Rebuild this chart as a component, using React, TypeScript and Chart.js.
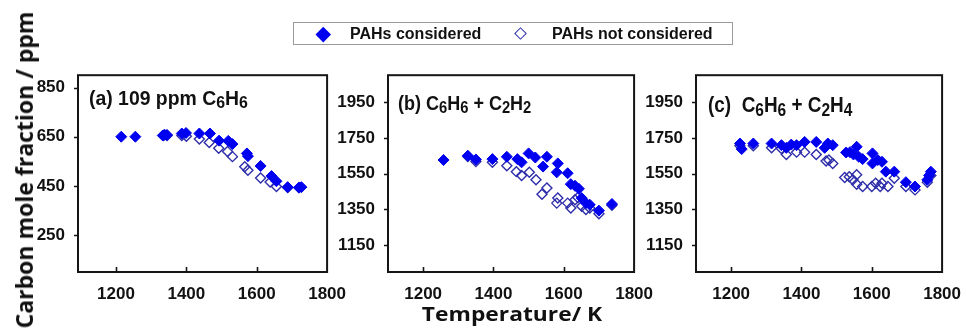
import React, { useEffect, useRef } from 'react';
import { Chart, registerables } from 'chart.js';

Chart.register(...registerables);

// ---------- data ----------
const xTicks = [1200, 1400, 1600, 1800];
const aYTicks = [250, 450, 650, 850];
const bcYTicks = [1150, 1350, 1550, 1750, 1950];

// (a) 109 ppm C6H6
const aFilledT = [1215, 1255, 1333, 1338, 1345, 1387, 1399, 1437, 1467, 1493, 1519, 1531, 1572, 1575, 1611, 1642, 1656, 1688, 1720, 1727];
const aFilledC = [650, 650, 655, 658, 657, 663, 665, 663, 663, 634, 633, 620, 582, 571, 531, 490, 469, 445, 443, 445];
const aOpenT = [1335, 1345, 1387, 1400, 1437, 1465, 1492, 1517, 1531, 1566, 1575, 1611, 1638, 1656, 1688, 1720];
const aOpenC = [655, 655, 655, 652, 641, 626, 603, 590, 569, 528, 514, 482, 466, 448, 443, 443];

// (b) C6H6 + C2H2
const bFilledT = [1258, 1327, 1350, 1397, 1438, 1468, 1480, 1500, 1519, 1541, 1552, 1583, 1580, 1611, 1620, 1632, 1643, 1651, 1663, 1674, 1700, 1737];
const bFilledC = [1626, 1650, 1629, 1631, 1644, 1631, 1613, 1663, 1640, 1589, 1644, 1607, 1557, 1552, 1491, 1482, 1465, 1413, 1385, 1376, 1343, 1380];
const bOpenT = [1327, 1350, 1397, 1438, 1465, 1480, 1502, 1521, 1538, 1552, 1583, 1580, 1611, 1620, 1632, 1640, 1651, 1663, 1674, 1700, 1737];
const bOpenC = [1645, 1617, 1613, 1594, 1561, 1539, 1557, 1515, 1435, 1469, 1413, 1385, 1385, 1358, 1404, 1417, 1367, 1349, 1358, 1325, 1373];

// (c) C6H6 + C2H4
const cFilledT = [1225, 1230, 1263, 1315, 1343, 1357, 1371, 1386, 1409, 1442, 1466, 1475, 1489, 1527, 1538, 1548, 1557, 1563, 1574, 1602, 1602, 1617, 1629, 1640, 1664, 1697, 1723, 1758, 1768, 1763];
const cFilledC = [1718, 1687, 1718, 1718, 1709, 1694, 1712, 1709, 1727, 1727, 1694, 1718, 1709, 1668, 1670, 1657, 1700, 1644, 1631, 1663, 1607, 1626, 1616, 1561, 1561, 1502, 1478, 1515, 1561, 1540];
const cOpenT = [1225, 1263, 1315, 1343, 1357, 1386, 1409, 1442, 1470, 1478, 1489, 1523, 1536, 1546, 1557, 1557, 1574, 1600, 1611, 1624, 1629, 1646, 1664, 1697, 1723, 1758, 1768];
const cOpenC = [1705, 1705, 1694, 1690, 1657, 1670, 1670, 1657, 1620, 1626, 1607, 1528, 1533, 1515, 1543, 1491, 1478, 1478, 1496, 1478, 1496, 1478, 1524, 1478, 1459, 1502, 1540];

// ---------- styling ----------
const FILL = '#0000f0';
const OPEN = '#2e2eaa';
const TICK_FONT = { family: '"Liberation Sans", Arial, sans-serif', size: 17, weight: 'bold' as const };

type Part = { t: string; sub?: boolean };

interface PanelCfg {
  left: number;
  boxW: number;
  xMin: number;
  yMin: number;
  yMax: number;
  yTicks: number[];
  filledT: number[];
  filledC: number[];
  openT: number[];
  openC: number[];
  label: Part[];
  labelDx: number;
  labelDy: number;
  labelSize: number;
  labelSx: number;
}

const pts = (xs: number[], ys: number[]) => xs.map((x, i) => ({ x, y: ys[i] }));

function makeFramePlugin(cfg: PanelCfg) {
  return {
    id: 'frame',
    afterDraw(chart: any) {
      const { ctx, chartArea: ca, scales } = chart;
      ctx.save();
      ctx.strokeStyle = '#151515';
      ctx.lineWidth = 2;
      ctx.strokeRect(ca.left, ca.top, ca.right - ca.left, ca.bottom - ca.top);
      ctx.lineWidth = 1.6;
      ctx.beginPath();
      for (const v of xTicks) {
        if (v >= scales.x.max) continue;
        const px = Math.round(scales.x.getPixelForValue(v)) + 0.5;
        ctx.moveTo(px, ca.bottom);
        ctx.lineTo(px, ca.bottom - 5);
      }
      for (const v of cfg.yTicks) {
        const py = Math.round(scales.y.getPixelForValue(v)) + 0.5;
        ctx.moveTo(ca.left - 4, py);
        ctx.lineTo(ca.left, py);
      }
      ctx.stroke();
      // panel label
      ctx.fillStyle = '#111';
      ctx.textBaseline = 'alphabetic';
      ctx.translate(ca.left + cfg.labelDx, ca.top + cfg.labelDy);
      ctx.scale(cfg.labelSx, 1);
      let x = 0;
      for (const p of cfg.label) {
        const size = p.sub ? cfg.labelSize * 0.82 : cfg.labelSize;
        ctx.font = `bold ${size}px "Liberation Sans", Arial, sans-serif`;
        ctx.fillText(p.t, x, p.sub ? cfg.labelSize * 0.16 : 0);
        x += ctx.measureText(p.t).width;
      }
      ctx.restore();
    },
  };
}

const CANVAS_TOP = 60;
const CANVAS_H = 247;
const Y_AXIS_W = 60;
const X_AXIS_H = 35;
const PAD_TOP = 13;
const PAD_RIGHT = 22;

function Panel({ cfg }: { cfg: PanelCfg }) {
  const ref = useRef<HTMLCanvasElement | null>(null);
  const w = Y_AXIS_W + cfg.boxW + PAD_RIGHT;
  useEffect(() => {
    if (!ref.current) return;
    const chart = new Chart(ref.current, {
      type: 'scatter',
      data: {
        datasets: [
          {
            data: pts(cfg.filledT, cfg.filledC),
            pointStyle: 'rectRot',
            pointRadius: 5.5,
            backgroundColor: FILL,
            borderColor: FILL,
            borderWidth: 1,
          },
          {
            data: pts(cfg.openT, cfg.openC),
            pointStyle: 'rectRot',
            pointRadius: 5,
            backgroundColor: 'rgba(255,255,255,0)',
            borderColor: OPEN,
            borderWidth: 1.4,
          },
        ],
      },
      options: {
        responsive: false,
        animation: false,
        devicePixelRatio: 1,
        layout: { padding: { top: PAD_TOP, right: PAD_RIGHT, left: 0, bottom: 0 } },
        plugins: { legend: { display: false }, tooltip: { enabled: false } },
        scales: {
          x: {
            type: 'linear',
            min: cfg.xMin,
            max: 1800,
            grid: { display: false },
            border: { display: false },
            afterBuildTicks: (s: any) => {
              s.ticks = xTicks.map((v) => ({ value: v }));
            },
            afterFit: (s: any) => {
              s.height = X_AXIS_H;
            },
            ticks: {
              font: TICK_FONT,
              color: '#111',
              padding: 4,
              maxRotation: 0,
              autoSkip: false,
              callback: (v: any) => String(v),
            },
          },
          y: {
            type: 'linear',
            min: cfg.yMin,
            max: cfg.yMax,
            grid: { display: false },
            border: { display: false },
            afterBuildTicks: (s: any) => {
              s.ticks = cfg.yTicks.map((v) => ({ value: v }));
            },
            afterFit: (s: any) => {
              s.width = Y_AXIS_W;
            },
            ticks: {
              font: TICK_FONT,
              color: '#111',
              padding: 5,
              autoSkip: false,
              callback: (v: any) => String(v),
            },
          },
        },
      },
      plugins: [makeFramePlugin(cfg)],
    });
    return () => chart.destroy();
  }, []);
  return (
    <canvas
      ref={ref}
      width={w}
      height={CANVAS_H}
      style={{ position: 'absolute', left: cfg.left - Y_AXIS_W, top: CANVAS_TOP, width: w, height: CANVAS_H }}
    />
  );
}

const panels: PanelCfg[] = [
  {
    left: 78, boxW: 250, xMin: 1092, yMin: 100, yMax: 900, yTicks: aYTicks,
    filledT: aFilledT, filledC: aFilledC, openT: aOpenT, openC: aOpenC,
    label: [{ t: '(a) 109 ppm C' }, { t: '6', sub: true }, { t: 'H' }, { t: '6', sub: true }],
    labelDx: 11, labelDy: 30, labelSize: 20, labelSx: 0.97,
  },
  {
    left: 388, boxW: 247, xMin: 1100, yMin: 1000, yMax: 2100, yTicks: bcYTicks,
    filledT: bFilledT, filledC: bFilledC, openT: bOpenT, openC: bOpenC,
    label: [{ t: '(b) C' }, { t: '6', sub: true }, { t: 'H' }, { t: '6', sub: true }, { t: ' + C' }, { t: '2', sub: true }, { t: 'H' }, { t: '2', sub: true }],
    labelDx: 10, labelDy: 35, labelSize: 20, labelSx: 0.9,
  },
  {
    left: 696, boxW: 247, xMin: 1100, yMin: 1000, yMax: 2100, yTicks: bcYTicks,
    filledT: cFilledT, filledC: cFilledC, openT: cOpenT, openC: cOpenC,
    label: [{ t: '(c)  C' }, { t: '6', sub: true }, { t: 'H' }, { t: '6', sub: true }, { t: ' + C' }, { t: '2', sub: true }, { t: 'H' }, { t: '4', sub: true }],
    labelDx: 12, labelDy: 37, labelSize: 22, labelSx: 0.86,
  },
];

const legendFont = 'bold 16px "Liberation Sans", Arial, sans-serif';

export default function App() {
  return (
    <div style={{ position: 'absolute', left: 0, top: 0, width: 966, height: 331, background: '#fff', overflow: 'hidden' }}>
      {panels.map((p, i) => (
        <Panel key={i} cfg={p} />
      ))}
      {/* legend */}
      <div
        style={{
          position: 'absolute', left: 293, top: 22, width: 438, height: 21,
          border: '1px solid #9a9a9a', boxSizing: 'content-box',
        }}
      >
        <div style={{ position: 'absolute', left: 24, top: 5.5, width: 10.5, height: 10.5, background: FILL, transform: 'rotate(45deg)' }} />
        <div style={{ position: 'absolute', left: 56, top: 0, font: legendFont, lineHeight: '21px', color: '#111', whiteSpace: 'nowrap' }}>
          PAHs considered
        </div>
        <div style={{ position: 'absolute', left: 222, top: 5.5, width: 7, height: 7, border: `1.6px solid ${OPEN}`, transform: 'rotate(45deg)' }} />
        <div style={{ position: 'absolute', left: 258, top: 0, font: legendFont, lineHeight: '21px', color: '#111', whiteSpace: 'nowrap' }}>
          PAHs not considered
        </div>
      </div>
      {/* y title */}
      <div
        style={{
          position: 'absolute', left: 24, top: 170, transform: 'translate(-50%, -50%) rotate(-90deg)',
          font: 'bold 23px "Open Sans", sans-serif', color: '#111', whiteSpace: 'nowrap', lineHeight: '26px',
        }}
      >
        Carbon mole fraction / ppm
      </div>
      {/* x title */}
      <div
        style={{
          position: 'absolute', left: 512, top: 314, transform: 'translate(-50%, -50%) scale(1.2, 1)',
          font: 'bold 19px "Open Sans", sans-serif', color: '#111', whiteSpace: 'nowrap', lineHeight: '22px',
        }}
      >
        Temperature/ K
      </div>
    </div>
  );
}
